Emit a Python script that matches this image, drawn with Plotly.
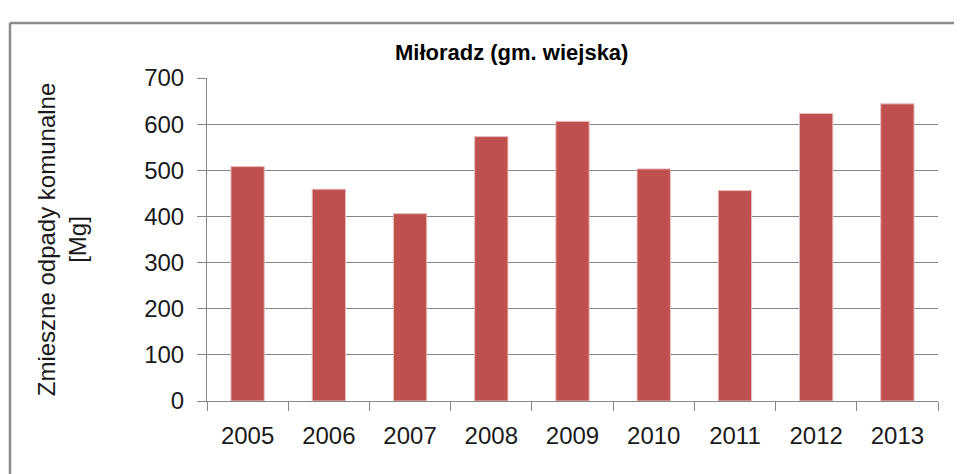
import plotly.graph_objects as go

years = ["2005", "2006", "2007", "2008", "2009", "2010", "2011", "2012", "2013"]
values = [508, 459, 406, 573, 606, 503, 456, 623, 644]
y_ticks = [0, 100, 200, 300, 400, 500, 600, 700]

title_text = "<b>Miłoradz (gm. wiejska)</b>"
y_title = "Zmieszne odpady komunalne<br>[Mg]"

# the page body has an 8px margin, so the figure is drawn 8px in from the window edge
OFF = 8
W, H = 962 - 2 * OFF, 474 - OFF
L, T = 207 - OFF, 78 - OFF
R = W - (938 - OFF)
B = H - (401 - OFF)
pw, ph = W - L - R, H - T - B

fig = go.Figure(go.Bar(
    x=years, y=values,
    marker=dict(color="#C0504D", line=dict(color="#E8BCBB", width=1)),
))

font = "Liberation Sans, Arial, sans-serif"
fig.update_layout(
    width=W, height=H,
    margin=dict(l=L, r=R, t=T, b=B, autoexpand=False),
    paper_bgcolor="white", plot_bgcolor="white",
    bargap=0.59, showlegend=False,
    font=dict(family=font, color="#1a1a1a"),
    title=dict(text=title_text, x=(511.7 - OFF - L) / pw, xref="paper", xanchor="center",
               y=1 - (52 - OFF) / H, yanchor="middle", yref="container",
               font=dict(size=22, family=font, color="#000000")),
)
fig.update_xaxes(
    type="category", tickson="boundaries", ticks="outside", ticklen=9,
    tickcolor="#868686", tickwidth=1, showline=True, linecolor="#868686", linewidth=1,
    showgrid=False, tickfont=dict(size=24), ticklabelstandoff=13, fixedrange=True,
)
fig.update_yaxes(
    range=[0, 700], tickvals=y_ticks, ticks="outside", ticklen=9,
    tickcolor="#868686", tickwidth=1, showline=True, linecolor="#868686", linewidth=1,
    showgrid=True, gridcolor="#868686", gridwidth=1, zeroline=False,
    tickfont=dict(size=24), ticklabelstandoff=8,
    title=dict(text=y_title, font=dict(size=24), standoff=50),
)

# outer chart frame: only its top and left edges are inside the picture
fx0 = (10 - OFF - L) / pw
fx1 = (W + 30 - L) / pw
fy0 = -(H + 30 - (T + ph)) / ph
fy1 = (T + ph - (23 - OFF)) / ph
frame = dict(color="#8c8c8c", width=2.5)
fig.add_shape(type="line", xref="paper", yref="paper", x0=fx0, x1=fx1, y0=fy1, y1=fy1,
              line=frame, layer="below")
fig.add_shape(type="line", xref="paper", yref="paper", x0=fx0, x1=fx0, y0=fy0, y1=fy1,
              line=frame, layer="below")

fig.write_html("out.html")
